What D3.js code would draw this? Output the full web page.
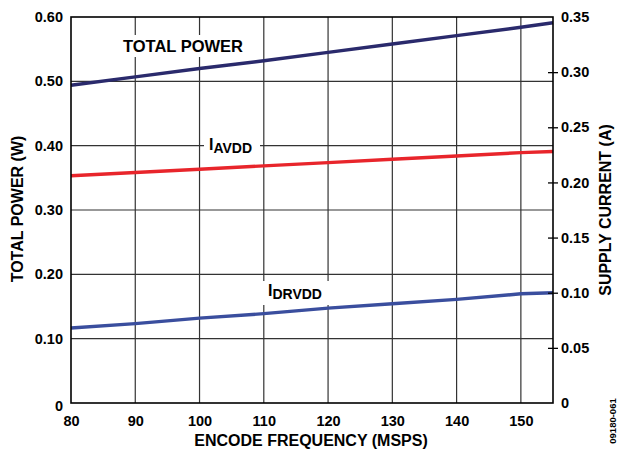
<!DOCTYPE html>
<html><head><meta charset="utf-8">
<script src="https://cdn.jsdelivr.net/npm/d3@7"></script>
<style>
html,body{margin:0;padding:0;background:#fff;}
text{font-family:"Liberation Sans",Arial,sans-serif;font-weight:bold;fill:#000;}
</style></head>
<body>
<svg id="chart" width="620" height="453"></svg>
<script>
const freq = [80, 90, 100, 110, 120, 130, 140, 150, 155];
const totalPower = [0.494, 0.507, 0.520, 0.532, 0.545, 0.558, 0.571, 0.584, 0.591];
const iAVDD = [0.206, 0.209, 0.212, 0.215, 0.218, 0.221, 0.224, 0.227, 0.228];
const iDRVDD = [0.068, 0.072, 0.077, 0.081, 0.086, 0.090, 0.094, 0.099, 0.100];
const xTicks = [80, 90, 100, 110, 120, 130, 140, 150];
const yLeftTicks = [0, 0.1, 0.2, 0.3, 0.4, 0.5, 0.6];
const yRightTicks = [0, 0.05, 0.10, 0.15, 0.20, 0.25, 0.30, 0.35];

const svg = d3.select("#chart");
const L = 71, R = 553, T = 17, B = 403;
const x = d3.scaleLinear().domain([80, 155]).range([L, R]);
const yL = d3.scaleLinear().domain([0, 0.6]).range([B, T]);
const yR = d3.scaleLinear().domain([0, 0.35]).range([B, T]);

// grid
const g = svg.append("g");
g.selectAll(".vg").data(xTicks.filter(d => d > 80)).enter().append("line")
  .attr("x1", d => x(d)).attr("x2", d => x(d)).attr("y1", T).attr("y2", B)
  .attr("stroke", "#333").attr("stroke-width", 1.2);
g.selectAll(".hg").data(yLeftTicks.filter(d => d > 0 && d < 0.6)).enter().append("line")
  .attr("x1", L).attr("x2", R).attr("y1", d => yL(d)).attr("y2", d => yL(d))
  .attr("stroke", "#333").attr("stroke-width", 1.2);

// label backgrounds (white boxes breaking grid)
function bg(x0, y0, w, h) {
  svg.append("rect").attr("x", x0).attr("y", y0).attr("width", w).attr("height", h).attr("fill", "#fff");
}
bg(118, 35, 130, 22);
bg(204, 135, 56, 24);
bg(263, 281, 68, 24);

// lines
const lineL = d3.line().x((d, i) => x(freq[i])).y(d => yL(d));
const lineR = d3.line().x((d, i) => x(freq[i])).y(d => yR(d));
svg.append("path").attr("d", lineL(totalPower)).attr("fill", "none").attr("stroke", "#2a2a6c").attr("stroke-width", 3.4);
svg.append("path").attr("d", lineR(iAVDD)).attr("fill", "none").attr("stroke", "#e8252b").attr("stroke-width", 3.4);
svg.append("path").attr("d", lineR(iDRVDD)).attr("fill", "none").attr("stroke", "#3a4e9e").attr("stroke-width", 3.4);

// frame
svg.append("rect").attr("x", L).attr("y", T).attr("width", R - L).attr("height", B - T)
  .attr("fill", "none").attr("stroke", "#000").attr("stroke-width", 1.6);

// axes
const axB = svg.append("g").attr("transform", `translate(0,${B})`)
  .call(d3.axisBottom(x).tickValues(xTicks).tickSize(0).tickPadding(13).tickFormat(d3.format("d")));
const axL = svg.append("g").attr("transform", `translate(${L},0)`)
  .call(d3.axisLeft(yL).tickValues(yLeftTicks).tickSize(0).tickPadding(8).tickFormat(d => d === 0 ? "0" : d3.format(".2f")(d)));
const axR = svg.append("g").attr("transform", `translate(${R},0)`)
  .call(d3.axisRight(yR).tickValues(yRightTicks).tickSize(5).tickPadding(3).tickFormat(d => d === 0 ? "0" : d3.format(".2f")(d)));
[axB, axL, axR].forEach(a => {
  a.select(".domain").remove();
  a.selectAll("text").attr("font-size", 14.5).attr("font-family", "Liberation Sans, Arial, sans-serif").attr("font-weight", "bold").attr("fill", "#000");
});
axR.selectAll(".tick line").attr("x1", -5).attr("stroke", "#000").attr("stroke-width", 1.3)
  .attr("display", d => (d === 0 || d === 0.35) ? "none" : null);
axL.selectAll(".tick").filter(d => d === 0).select("text").attr("dy", "0.5em");
axR.selectAll(".tick").filter(d => d === 0).select("text").attr("dy", "0.3em");

// axis titles
svg.append("text").attr("x", 311).attr("y", 446).attr("text-anchor", "middle").attr("font-size", 16).text("ENCODE FREQUENCY (MSPS)");
svg.append("text").attr("transform", "translate(23,209) rotate(-90)").attr("text-anchor", "middle").attr("font-size", 16).text("TOTAL POWER (W)");
svg.append("text").attr("transform", "translate(611,210) rotate(-90)").attr("text-anchor", "middle").attr("font-size", 16).text("SUPPLY CURRENT (A)");
svg.append("text").attr("transform", "translate(616,421) rotate(-90)").attr("text-anchor", "middle").attr("font-size", 9.5)
  .attr("font-weight", "normal").text("09180-061");

// series labels
svg.append("text").attr("x", 183).attr("y", 52).attr("text-anchor", "middle").attr("font-size", 16.5).text("TOTAL POWER");
const t1 = svg.append("text").attr("x", 209).attr("y", 150).attr("font-size", 16);
t1.append("tspan").text("I");
t1.append("tspan").attr("dy", 3).attr("font-size", 14).text("AVDD");
const t2 = svg.append("text").attr("x", 268).attr("y", 296).attr("font-size", 16);
t2.append("tspan").text("I");
t2.append("tspan").attr("dy", 3).attr("font-size", 14).text("DRVDD");
</script>
</body></html>
